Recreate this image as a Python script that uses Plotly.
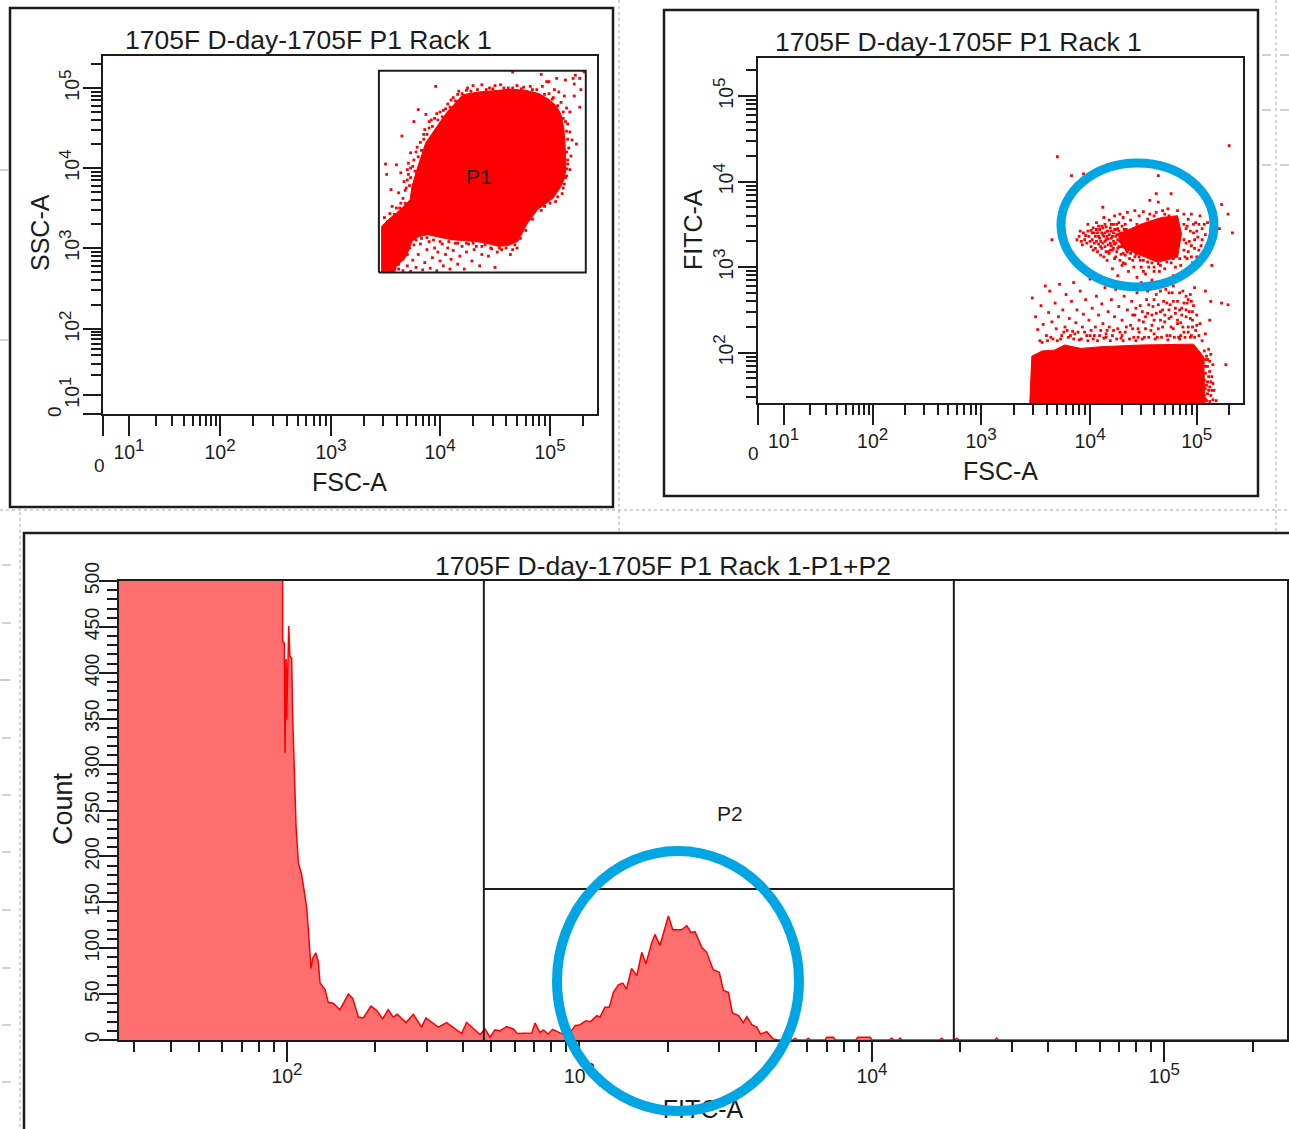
import numpy as np
import plotly.graph_objects as go

W, H = 1289, 1129
FONT = "Liberation Sans"
INK = "#1c1c1c"
RED = "#ff0000"
BLUE = "#00a5e3"

# ---------- data (log10 of the channel value) ----------
p1_cloud_fsc = [3.464,3.464,3.530,3.600,3.680,3.725,3.745,3.790,3.868,3.930,3.993,4.060,4.136,4.207,4.350,4.493,4.640,4.779,4.900,4.993,5.060,5.100,5.125,5.136,5.143,5.130,5.100,5.029,4.886,4.796,4.707,4.620,4.529,4.420,4.314,4.100,3.886,3.800,3.743,3.689,3.600,3.582]
p1_cloud_ssc = [2.696,3.271,3.360,3.4375,3.540,3.604,3.780,3.990,4.3125,4.440,4.5625,4.690,4.8125,4.917,4.950,4.971,4.985,4.971,4.930,4.854,4.770,4.667,4.500,4.3125,3.979,3.870,3.771,3.625,3.479,3.3125,3.083,3.030,3.021,3.060,3.083,3.104,3.167,3.140,3.083,2.896,2.771,2.696]
p1_points = [(3.50,4.05),(3.60,4.04),(3.51,3.92),(3.55,3.73),(3.65,4.40),(3.76,4.58),(3.80,4.73),(3.87,4.67),(3.96,5.02),(3.73,4.19),(3.64,3.94),(3.67,3.83),(3.62,3.69),(3.71,4.06),(3.56,3.52),(3.49,3.38),(3.64,3.56),
(3.73,4.0),(3.78,4.2),(3.70,3.98),(3.69,3.75),(3.66,3.62),(3.60,3.50),(3.54,3.43),(3.85,4.42),(3.90,4.50),(3.92,4.60),(3.97,4.68),(4.03,4.72),(4.07,4.80),(4.12,4.88),(4.17,4.96),(4.25,5.00),(4.30,5.03),(4.38,5.04),(4.45,5.00),(4.50,5.03),(4.55,5.04),(4.62,5.00),(4.70,5.03),(4.76,5.01),(4.82,5.02),(4.88,4.98),(4.93,5.02),(4.97,5.08),(4.99,4.93),(5.04,4.98),(5.03,4.88),(5.08,4.95),(5.10,4.82),(5.13,4.90),(5.15,4.75),(5.18,4.70),(5.12,4.62),(5.16,4.55),(5.18,4.45),(5.20,4.35),(5.17,4.25),(5.19,4.15),(5.16,4.05),(5.18,3.98),(5.15,3.90),(5.13,3.80),(5.11,3.68),(5.05,3.58),(4.95,3.52),(5.27,5.12),(5.23,5.16),(5.31,5.20),(5.27,4.76),(5.24,4.30),(5.22,4.90),(4.66,5.20),(5.22,5.05),(5.14,5.10),(5.06,5.12),(4.92,5.17),(4.99,5.08),(5.21,5.12),(5.28,4.98),
(3.62,2.74),(3.66,2.72),(3.70,2.78),(3.73,2.71),(3.75,2.85),(3.78,2.76),(3.80,2.92),(3.82,3.05),(3.84,2.73),(3.86,2.82),(3.88,2.98),(3.90,3.08),(3.91,2.75),(3.93,2.88),(3.95,3.0),(3.97,2.72),(3.98,2.95),(4.00,2.84),(4.02,3.05),(4.03,2.78),(4.05,2.92),(4.07,3.0),(4.09,2.74),(4.10,2.86),(4.12,2.97),(4.14,3.06),(4.16,2.80),(4.18,2.90),(4.20,3.02),(4.22,2.74),(4.24,2.95),(4.26,3.05),(4.29,2.84),(4.31,2.98),(4.33,3.02),(4.36,2.78),(4.38,2.92),(4.41,3.04),(4.44,2.9),(4.47,2.99),(4.5,2.76),(4.52,2.95),(4.56,2.98),(4.64,2.92),(4.66,2.98),(4.70,3.0),
(3.68,3.72),(3.70,3.85),(3.72,3.78),(3.71,3.92),(3.73,3.88),(3.75,4.02),(3.76,4.1),(3.77,3.96),(3.79,4.26),(3.80,4.14),(3.82,4.32),(3.83,4.22),(3.85,4.36),(3.86,4.48),(3.88,4.42),(3.90,4.58),(3.93,4.52),(3.95,4.62),(3.98,4.6),(4.0,4.7),(4.02,4.64),(4.05,4.74),(4.09,4.76),(4.1,4.85),(4.14,4.84),(4.16,4.92),(4.2,4.93),(4.24,4.97),(4.28,4.96),(4.34,4.98),(4.42,4.98),(4.48,4.99),(4.58,5.0),(4.66,5.0),(4.74,4.99),(4.84,4.98),(4.95,4.92),(5.02,4.86),(5.07,4.78),(5.12,4.7),(5.14,4.58),(5.15,4.46),(5.16,4.36),(5.15,4.2),(5.16,4.1),(5.15,3.99),(5.14,3.88),(5.12,3.75),(5.07,3.64),(5.0,3.56),(4.92,3.47),(4.84,3.36),(4.78,3.22),(4.73,3.12),(3.52,3.33),(3.58,3.42),(3.63,3.5),(3.68,3.56),
(3.52,2.72),(3.62,2.8),(3.66,2.86),(3.7,2.92),(3.72,3.0),(3.76,3.04),(3.78,3.1),(3.83,3.12),(3.88,3.13),(3.94,3.1),(4.0,3.08),(4.08,3.08),(4.16,3.06),(4.24,3.06),(4.3,3.06),(4.38,3.02),(4.46,3.0),(4.54,3.0),(4.6,3.0),(4.68,3.04)]
p1_gate_fsc = [3.439,5.325,5.325,3.439,3.439]
p1_gate_ssc = [2.696,2.696,5.217,5.217,2.696]

p2_low_fsc = [3.447,3.466,3.560,3.673,3.767,3.917,4.105,4.481,4.970,5.064,5.075]
p2_low_fitc = [1.412,1.96,2.02,2.03,2.09,2.05,2.07,2.09,2.10,1.953,1.412]
p2_high_fsc = [4.260,4.330,4.481,4.669,4.820,4.857,4.820,4.632,4.444,4.293]
p2_high_fitc = [3.390,3.420,3.504,3.581,3.601,3.388,3.116,3.058,3.155,3.233]
p2_points = [(3.70,4.29),(5.30,4.42),(3.83,4.07),(3.94,4.09),(4.64,4.07),(4.62,3.86),(4.76,3.86),(4.56,3.78),(4.64,3.76),(4.12,3.70),(5.23,3.73),(5.29,3.62),(5.33,3.40),(3.65,3.32),(5.21,3.45),(5.14,3.02),
(3.88,3.32),(3.91,3.42),(3.93,3.26),(3.96,3.37),(3.98,3.5),(4.0,3.3),(4.01,3.43),(4.03,3.2),(4.05,3.36),(4.06,3.52),(4.08,3.27),(4.09,3.44),(4.1,3.14),(4.12,3.38),(4.13,3.58),(4.14,3.24),(4.15,3.47),(4.16,3.08),(4.17,3.33),(4.18,3.55),(4.19,3.2),(4.2,3.42),(4.21,2.98),(4.22,3.3),(4.23,3.6),(4.24,3.12),(4.25,3.5),(4.26,2.9),(4.27,3.24),(4.28,3.62),(4.3,3.02),(4.31,3.58),(4.33,3.14),(4.35,3.64),(4.36,2.95),(4.38,3.55),(4.4,3.08),(4.42,3.66),(4.44,2.88),(4.46,3.6),(4.48,3.0),(4.5,3.65),(4.52,2.92),(4.54,3.06),(4.56,3.62),(4.58,2.85),(4.6,3.0),(4.62,3.64),(4.65,2.95),(4.68,3.66),(4.7,2.98),(4.73,3.68),(4.76,3.05),(4.78,2.9),(4.82,3.66),(4.85,3.02),(4.88,3.62),(4.88,3.2),(4.9,3.45),(4.91,3.1),(4.92,3.56),(4.93,3.3),(4.95,3.62),(4.96,3.05),(4.97,3.4),(4.98,3.22),(4.99,3.52),(5.0,3.12),(5.01,3.35),(5.03,3.6),(5.04,3.25),(5.05,3.45),(5.07,3.15),(5.08,3.38),(5.1,3.52),(5.12,3.3),
(4.11,3.48),(4.14,3.3),(4.17,3.42),(4.2,3.25),(4.22,3.5),(4.24,3.36),(4.26,3.45),(4.28,3.3),(4.29,3.15),(4.31,3.05),(4.33,3.5),(4.34,3.25),(4.37,3.1),(4.39,3.25),(4.41,3.0),(4.43,3.15),(4.47,3.08),(4.5,2.95),(4.55,3.0),(4.6,2.95),(4.66,3.02),(4.72,3.06),(4.8,3.0),(4.84,3.1),
(4.02,3.4),(4.04,3.28),(4.06,3.44),(4.07,3.18),(4.08,3.36),(4.1,3.3),(4.11,3.22),(4.12,3.46),(4.13,3.12),(4.14,3.4),(4.15,3.18),(4.16,3.36),(4.17,3.26),(4.18,3.16),(4.19,3.46),(4.2,3.34),(4.21,3.2),(4.22,3.4),(4.23,3.1),(4.23,3.27),(4.24,3.44),(4.25,3.18),(4.26,3.32),(4.27,3.52),(4.28,3.08),(4.29,3.4),(4.3,3.28),(4.3,3.48),(4.31,3.16),(4.32,3.36),(4.33,3.04),(4.34,3.44),(4.35,3.18),(4.36,3.3),(4.38,3.16),(4.38,3.42),(4.4,3.2),(4.42,3.12),(4.44,3.5),(4.46,3.12),(4.5,3.08),(4.54,3.56),(4.58,3.05),(4.6,3.6),(4.64,3.04),(4.7,3.62),(4.74,3.6),(4.78,3.1),(4.88,3.5),(4.88,3.32),(4.89,3.12),(4.9,3.28),(4.91,3.48),(4.92,3.18),(4.94,3.42),(4.95,3.25),(4.95,3.12),(4.97,3.5),(4.98,3.32),(5.0,3.42),(5.02,3.2),(5.02,3.5),(5.05,3.32),(5.07,3.5),(5.09,3.25),(5.13,3.42),
(3.9,3.36),(3.92,3.3),(3.94,3.4),(3.95,3.32),(3.97,3.28),(3.98,3.42),(3.99,3.36),(4.01,3.24),(4.02,3.32),(4.03,3.46),(4.04,3.4),(4.05,3.22),(4.06,3.3),(4.07,3.4),(4.08,3.48),(4.09,3.34),(4.1,3.24),(4.11,3.4),(4.12,3.28),(4.13,3.36),(4.14,3.5),(4.15,3.32),(4.16,3.42),(4.17,3.18),(4.18,3.38),(4.19,3.28),(4.2,3.5),(4.21,3.36),(4.22,3.22),(4.23,3.44),(4.24,3.28),(4.25,3.38),(4.26,3.22),(4.27,3.42),(4.28,3.36),(4.29,3.24),(4.3,3.38),(4.31,3.28),(4.32,3.44),(4.33,3.34),(4.34,3.2),(4.35,3.4),(4.36,3.24),(4.37,3.36),(4.38,3.3),(4.4,3.4),(4.41,3.28),(4.42,3.2),
(3.47,2.64),(3.50,2.42),(3.52,2.27),(3.54,2.14),(3.55,2.55),(3.57,2.33),(3.59,2.78),(3.60,2.2),(3.62,2.47),(3.63,2.72),(3.65,2.36),(3.66,2.16),(3.68,2.58),(3.69,2.28),(3.71,2.42),(3.72,2.8),(3.74,2.2),(3.75,2.5),(3.77,2.3),(3.78,2.68),(3.8,2.18),(3.81,2.4),(3.83,2.6),(3.84,2.25),(3.85,2.82),(3.87,2.35),(3.88,2.5),(3.9,2.15),(3.91,2.72),(3.93,2.3),(3.94,2.45),(3.96,2.62),(3.97,2.2),(3.99,2.38),(4.0,2.86),(4.02,2.52),(4.03,2.16),(4.05,2.3),(4.06,2.66),(4.08,2.44),(4.09,2.2),(4.11,2.57),(4.12,2.34),(4.14,2.76),(4.15,2.18),(4.17,2.48),(4.18,2.3),(4.2,2.62),(4.21,2.2),(4.23,2.42),(4.24,2.74),(4.26,2.28),(4.27,2.54),(4.29,2.17),(4.3,2.38),(4.32,2.66),(4.33,2.24),(4.35,2.5),(4.36,2.8),(4.38,2.32),(4.39,2.6),(4.41,2.18),(4.42,2.44),(4.44,2.7),(4.45,2.28),(4.47,2.55),(4.48,2.82),(4.5,2.36),(4.51,2.18),(4.53,2.62),(4.54,2.46),(4.56,2.74),(4.57,2.26),(4.59,2.54),(4.6,2.38),(4.62,2.68),(4.63,2.18),(4.65,2.82),(4.66,2.48),(4.68,2.3),(4.69,2.6),(4.71,2.74),(4.72,2.2),(4.74,2.4),(4.75,2.56),(4.77,2.7),(4.78,2.28),(4.8,2.46),(4.81,2.84),(4.82,2.6),(4.83,2.18),(4.85,2.35),(4.86,2.52),(4.87,2.72),(4.88,2.24),(4.9,2.42),(4.91,2.58),(4.92,2.3),(4.93,2.48),(4.94,2.68),(4.95,2.2),(4.96,2.38),(4.97,2.55),(4.98,2.76),(4.99,2.26),(5.0,2.44),(5.02,2.2),(5.03,2.34),(5.05,2.14),(5.08,2.22),(5.12,2.38),(5.13,2.6),(5.08,2.72),(4.85,2.2),(4.75,2.2),(4.6,2.22),(4.45,2.18),(4.3,2.2),(4.15,2.22),(4.0,2.2),(3.85,2.16),
(3.56,2.12),(3.61,2.14),(3.64,2.18),(3.7,2.14),(3.73,2.16),(3.76,2.24),(3.79,2.26),(3.82,2.2),(3.86,2.22),(3.89,2.24),(3.92,2.16),(3.95,2.24),(3.98,2.14),(4.01,2.26),(4.04,2.2),(4.07,2.14),(4.1,2.26),(4.13,2.17),(4.16,2.26),(4.19,2.14),(4.22,2.26),(4.25,2.16),(4.28,2.24),(4.31,2.14),(4.34,2.3),(4.37,2.16),(4.4,2.28),(4.43,2.14),(4.46,2.24),(4.49,2.16),(4.52,2.28),(4.55,2.18),(4.58,2.32),(4.61,2.16),(4.64,2.28),(4.67,2.18),(4.7,2.36),(4.73,2.15),(4.76,2.3),(4.79,2.18),(4.82,2.34),(4.84,2.16),(4.87,2.3),(4.89,2.18),(4.92,2.24),(4.94,2.18),(4.96,2.3),(4.98,2.18),(5.0,2.32),
(4.4,2.44),(4.43,2.52),(4.46,2.38),(4.49,2.48),(4.52,2.42),(4.55,2.56),(4.58,2.44),(4.6,2.62),(4.62,2.46),(4.64,2.56),(4.66,2.38),(4.68,2.5),(4.7,2.44),(4.72,2.58),(4.74,2.5),(4.76,2.42),(4.78,2.6),(4.8,2.52),(4.82,2.38),(4.84,2.5),(4.86,2.44),(4.88,2.58),(4.9,2.5),(4.92,2.62),(4.94,2.4),(4.96,2.48),(4.54,2.72),(4.58,2.82),(4.62,2.78),(4.66,2.72),(4.7,2.82),(4.74,2.7),(4.78,2.78),(4.84,2.7),(4.9,2.66),(4.95,2.6),
(5.07,2.02),(5.09,1.96),(5.11,2.04),(5.06,1.88),(5.1,1.84),(5.13,1.98),(5.08,1.76),(5.12,1.78),(5.15,1.86),(5.07,1.68),(5.1,1.66),(5.14,1.72),(5.08,1.58),(5.12,1.6),(5.15,1.64),(5.07,1.5),(5.1,1.52),(5.13,1.5),(5.16,1.56),(5.09,1.44),(5.12,1.43),(5.15,1.45),(5.18,1.44),(5.27,1.86),(5.23,2.58),(5.29,2.56),(5.08,1.92),(5.12,1.9),(5.08,1.84),(5.11,1.72),(5.09,1.62),(5.13,1.66),(5.11,1.56),(5.08,1.46),(5.14,1.56),(5.1,1.92)]

hist_log_fitc = [1.42,1.985,1.985,1.991,1.993,1.997,1.999,2.006,2.010,2.016,2.019,2.025,2.031,2.039,2.050,2.058,2.067,2.073,2.079,2.082,2.088,2.098,2.107,2.113,2.130,2.141,2.158,2.181,2.210,2.225,2.244,2.261,2.287,2.307,2.327,2.346,2.363,2.377,2.407,2.432,2.460,2.475,2.517,2.546,2.597,2.614,2.660,
2.677,2.694,2.711,2.728,2.751,2.774,2.787,2.837,2.848,2.865,2.876,2.893,2.908,2.939,2.962,2.985,3.002,3.022,3.038,3.059,3.070,3.087,3.102,3.116,3.133,3.148,3.161,3.178,3.196,3.213,3.227,3.247,3.258,3.275,3.292,3.304,3.319,3.349,3.367,3.381,3.395,3.418,3.435,3.457,3.478,3.492,3.509,3.523,3.544,3.560,3.572,3.589,3.606,3.619,3.640,3.663,3.680,
3.73,3.737,3.745,3.775,3.782,3.79,3.84,3.845,3.868,3.875,3.945,3.952,3.993,4.0,4.06,4.067,4.075,4.09,4.096,4.103,4.23,4.238,4.245,4.283,4.29,4.297,4.42,4.426,4.433,5.42]
hist_count = [700,700,434,432,313,415,349,451,418,416,357,295,232,193,180,164,145,120,93,78,89,95,85,62,55,41,40,33,50,45,25,24,37,32,23,33,25,28,19,28,14,24,14,19,7,19,6,
12,3,11,10,14.5,12,7,7.6,18.5,8,11,6.5,11.6,7,5.5,15.6,16.7,21,20,26.5,25,35.6,35.6,52,60,62,55.5,78,70,95.5,83,106,115,103,123,135,120,120,124.5,117,118,101,95.5,76.6,73.7,54,52,29.4,26.5,19,25.4,16.7,14,6.5,9,1,0,
0,2,0,0,2,0,0,3,3,0,0,3,3,0,0,2,0,0,2,0,0,2,0,0,2,0,0,2,0,0]
gate_low_fitc = 471
gate_high_fitc = 19050
gate_count = 164.5

tick_exps = [1, 2, 3, 4, 5]


def supers(exps):
    return [f'10<sup><span style="font-size:17px">{e}</span></sup>' for e in exps]


def minor_logs(first, last):
    out = []
    for d in range(first, last):
        out += [d + np.log10(m) for m in range(2, 10)]
    return out


def px(x):
    return x / W


def py(y):
    return 1 - y / H


def mapper(logs, us):
    return lambda v: np.interp(v, logs, us).tolist()


p1x = mapper([0, 1, 2, 3, 4, 5, 5.5], [0, .236, 1.064, 2.073, 3.064, 4.064, 4.564])
p1y = mapper([0, 1, 2, 3, 4, 5, 5.5], [0, .2375, 1.0625, 2.075, 3.075, 4.075, 4.575])
p2x = mapper([0, 1, 2, 3, 4, 5, 5.5], [0, .241, 1.066, 2.07, 3.079, 4.067, 4.567])

fig = go.Figure()


def axis_style(major, text, minor, rng, length, angle=None, domain=None, anchor=None, standoff=0):
    d = dict(
        range=rng, domain=domain, anchor=anchor, showgrid=False, zeroline=False, automargin=False,
        showline=True, mirror=True, linecolor=INK, linewidth=2,
        tickmode="array", tickvals=major, ticktext=text, ticks="outside",
        ticklen=length, tickwidth=2, tickcolor=INK, ticklabelstandoff=standoff,
        tickfont=dict(family=FONT, size=19.5, color=INK),
        minor=dict(tickmode="array", tickvals=minor, ticks="outside", ticklen=10,
                   tickwidth=1.6, tickcolor=INK, showgrid=False),
    )
    if angle is not None:
        d["tickangle"] = angle
    return d


def pts(points, fx, fy, xa, ya):
    xs, ys = zip(*points)
    fig.add_trace(go.Scatter(x=fx(list(xs)), y=fy(list(ys)), mode="markers", xaxis=xa, yaxis=ya,
                             marker=dict(color=RED, size=2.8, symbol="square", line=dict(width=0)),
                             showlegend=False, hoverinfo="skip", cliponaxis=True))


def blob(xs, ys, fx, fy, xa, ya):
    fig.add_trace(go.Scatter(x=fx(xs), y=fy(ys), mode="lines", fill="toself", fillcolor=RED,
                             line=dict(color=RED, width=1), xaxis=xa, yaxis=ya,
                             showlegend=False, hoverinfo="skip"))


# Panel 1
blob(p1_cloud_fsc, p1_cloud_ssc, p1x, p1y, "x", "y")
pts(p1_points, p1x, p1y, "x", "y")
fig.add_trace(go.Scatter(x=p1x(p1_gate_fsc), y=p1y(p1_gate_ssc), mode="lines", xaxis="x", yaxis="y",
                         line=dict(color=INK, width=2), showlegend=False, hoverinfo="skip"))
# Panel 2
identity = lambda v: list(v)
blob(p2_low_fsc, p2_low_fitc, p2x, identity, "x2", "y2")
blob(p2_high_fsc, p2_high_fitc, p2x, identity, "x2", "y2")
pts(p2_points, p2x, identity, "x2", "y2")
# Panel 3
fig.add_trace(go.Scatter(x=[10 ** v for v in hist_log_fitc], y=hist_count, mode="lines",
                         fill="tozeroy", fillcolor="#ff6f6f", line=dict(color=RED, width=1.5),
                         xaxis="x3", yaxis="y3", showlegend=False, hoverinfo="skip"))
for gx, gy in (([gate_low_fitc] * 2, [0, 500]), ([gate_high_fitc] * 2, [0, 500]),
               ([gate_low_fitc, gate_high_fitc], [gate_count] * 2)):
    fig.add_trace(go.Scatter(x=gx, y=gy, mode="lines", line=dict(color=INK, width=2),
                             xaxis="x3", yaxis="y3", showlegend=False, hoverinfo="skip"))

# Axes
xa1 = axis_style(p1x([0] + tick_exps), [""] + supers(tick_exps), p1x(minor_logs(1, 5) + [5 + np.log10(2)]),
                 [0, 494 / 110], 20, domain=[px(103), px(597)], anchor="y")
ya1 = axis_style(p1y([0] + tick_exps), [""] + supers(tick_exps), p1y(minor_logs(1, 5) + [5 + np.log10(2)]),
                 [0, 358 / 80], 18, angle=-90, domain=[py(414), py(56)], anchor="x", standoff=-4)
xa2 = axis_style(p2x([0] + tick_exps), [""] + supers(tick_exps), p2x(minor_logs(1, 5) + [5 + np.log10(2)]),
                 [0, 485.5 / 108], 20, domain=[px(757.5), px(1243)], anchor="y2")
ya2 = axis_style(tick_exps[1:], supers(tick_exps[1:]), [1 + np.log10(m) for m in range(3, 10)] + minor_logs(2, 5) + [5 + np.log10(2)],
                 [1.412, 5.448], 18, angle=-90, domain=[py(403), py(57.7)], anchor="x2", standoff=-3)
hist_major = [10 ** e for e in (2, 3, 4, 5)]
hist_minor = [m * 10 ** d for d in (1, 2, 3, 4, 5) for m in range(2, 10) if 26 < m * 10 ** d < 2.6e5]
xa3 = axis_style(hist_major, supers((2, 3, 4, 5)), hist_minor, [1.4256, 5.419], 20,
                 domain=[px(119), px(1287)], anchor="y3", standoff=-2)
xa3["type"] = "log"
count_major = list(range(0, 501, 50))
count_minor = [v for v in range(0, 501, 10) if v % 50]
ya3 = axis_style(count_major, [str(v) for v in count_major], count_minor, [0, 500], 18, angle=-90,
                 domain=[py(1040), py(581)], anchor="x3", standoff=-8)
fig.update_layout(xaxis=xa1, yaxis=ya1, xaxis2=xa2, yaxis2=ya2, xaxis3=xa3, yaxis3=ya3)

# Background paper marks and frames
DOT = "#c4c4c4"
shapes = []


def seg(x0, y0, x1, y1, dash="dot", color=DOT, width=1.5):
    shapes.append(dict(type="line", xref="paper", yref="paper", x0=px(x0), x1=px(x1), y0=py(y0), y1=py(y1),
                       line=dict(color=color, width=width, dash=dash), layer="below"))


seg(619, 0, 619, 533)
seg(1276, 0, 1276, 533)
seg(20, 500, 20, 1129)
seg(0, 510, 1289, 510)
for y in (55, 110, 165):
    seg(1262, y, 1289, y, "dash")
for y in (565, 623, 680, 738, 795, 852, 910, 968, 1025, 1082):
    seg(2, y, 20, y, "dash")
for y in (170, 340, 680):
    seg(0, y, 8, y, "dash")
for x0, y0, x1, y1 in ((10, 8, 613, 507), (664, 10, 1258, 496), (24, 533, 1330, 1170)):
    shapes.append(dict(type="rect", xref="paper", yref="paper", x0=px(x0), x1=px(x1), y0=py(y0), y1=py(y1),
                       line=dict(color=INK, width=2.5), fillcolor="white", layer="below"))

# x-axis title of the histogram sits beneath the blue ring
shapes.append(dict(type="rect", xref="paper", yref="paper", x0=px(640), x1=px(766), y0=py(1094), y1=py(1120),
                   line=dict(width=0), fillcolor="rgba(0,0,0,0)", layer="above",
                   label=dict(text="FITC-A", textposition="middle center",
                              font=dict(family=FONT, size=25, color=INK))))
for x0, y0, x1, y1, lw in ((1061, 163, 1214, 287, 9), (557, 851, 799, 1111, 10)):
    shapes.append(dict(type="circle", xref="paper", yref="paper", x0=px(x0), x1=px(x1), y0=py(y0), y1=py(y1),
                       line=dict(color=BLUE, width=lw), fillcolor="rgba(0,0,0,0)", layer="above"))


def note(text, x, y, size=25, angle=0):
    return dict(text=text, x=px(x), y=py(y), xref="paper", yref="paper", showarrow=False,
                xanchor="center", yanchor="middle", textangle=angle,
                font=dict(family=FONT, size=size, color=INK))


TITLE = "1705F D-day-1705F P1 Rack 1"
annotations = [
    note(TITLE, 308, 40, size=26.5), note(TITLE, 958, 42, size=26.5), note(TITLE + "-P1+P2", 663, 566, size=26.5),
    note("FSC-A", 349, 482), note("FSC-A", 1000, 471),
    note("SSC-A", 40, 233, angle=-90), note("FITC-A", 693, 230, angle=-90),
    note("Count", 63, 808, size=27, angle=-90),
    note("P1", 479, 176, size=21), note("P2", 730, 813, size=21),
    note("0", 99, 465, size=19), note("0", 753, 453, size=19), note("0", 54, 412, size=19, angle=-90),
]

fig.update_layout(width=W, height=H, autosize=False, margin=dict(l=0, r=0, t=0, b=0, pad=0),
                  paper_bgcolor="white", plot_bgcolor="white", showlegend=False,
                  shapes=shapes, annotations=annotations)

fig.write_html("out.html", config=dict(displayModeBar=False),
               post_script="document.body.style.margin='0';document.body.style.overflow='hidden';")
